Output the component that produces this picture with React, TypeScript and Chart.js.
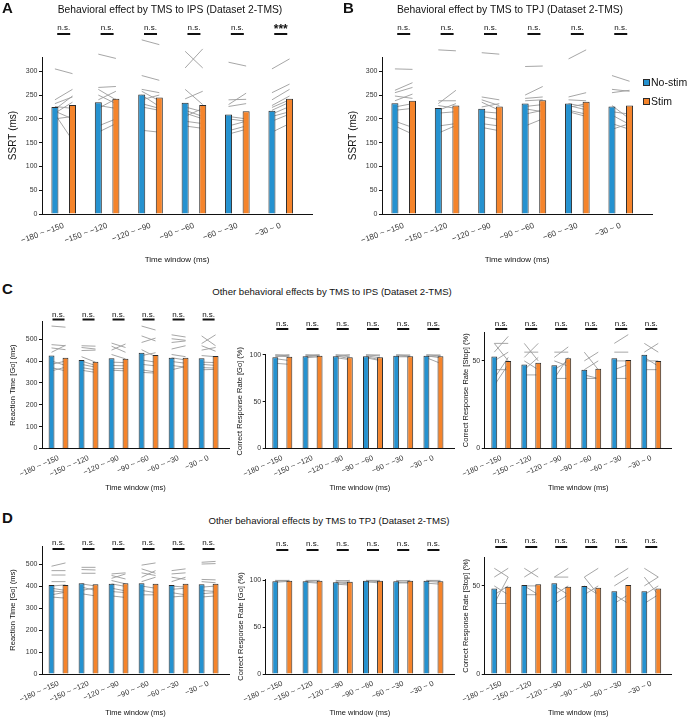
import React, { useEffect, useRef } from 'react';
import { Chart, registerables } from 'chart.js';

Chart.register(...registerables);

const FONT = '"Liberation Sans", Arial, Helvetica, sans-serif';
Chart.defaults.font.family = FONT;

// ---------- shared categories ----------
const timeWindows = ['−180 ~ −150', '−150 ~ −120', '−120 ~ −90', '−90 ~ −60', '−60 ~ −30', '−30 ~ 0'];
const groupPositions = [1, 2, 3, 4, 5, 6];
const seriesLabels = ['No-stim', 'Stim'];

// ---------- tick labels ----------
const ssrtTicks = [0, 50, 100, 150, 200, 250, 300];
const rtTicks = [0, 100, 200, 300, 400, 500];
const goTicks = [0, 50, 100];
const stopTicks = [0, 50];

// ---------- A: SSRT, IPS ----------
const ipsSsrtNoStim = [225, 235, 251, 234, 209, 217];
const ipsSsrtStim = [229, 242, 245, 229, 216, 242];
const ipsSsrtSubjNoStim = [
  [305, 240, 232, 226, 220, 216, 212, 210, 200],
  [336, 266, 262, 250, 240, 228, 222, 185, 172],
  [366, 291, 262, 258, 250, 240, 232, 225, 176],
  [342, 307, 262, 242, 225, 218, 212, 205, 195, 185],
  [319, 240, 230, 226, 205, 200, 185, 175, 168],
  [305, 255, 240, 228, 224, 218, 210, 205, 195, 172],
];
const ipsSsrtSubjStim = [
  [295, 262, 246, 222, 248, 200, 235, 155, 205],
  [327, 268, 240, 232, 258, 222, 242, 200, 190],
  [356, 281, 255, 238, 226, 250, 222, 218, 172],
  [307, 347, 230, 258, 215, 205, 200, 222, 190, 180],
  [311, 241, 254, 232, 200, 195, 195, 185, 178],
  [326, 273, 262, 248, 240, 235, 226, 215, 210, 190],
];
const ipsSsrtSig = ['n.s.', 'n.s.', 'n.s.', 'n.s.', 'n.s.', '***'];

// ---------- B: SSRT, TPJ ----------
const tpjSsrtNoStim = [233, 223, 221, 232, 232, 226];
const tpjSsrtStim = [238, 228, 226, 239, 236, 228];
const tpjSsrtSubjNoStim = [
  [305, 260, 255, 248, 238, 225, 218, 195, 185],
  [345, 238, 232, 228, 218, 212, 185, 170],
  [339, 246, 240, 235, 225, 215, 205, 190, 182],
  [310, 250, 243, 238, 226, 221, 210, 185],
  [326, 246, 240, 232, 228, 224, 218, 215],
  [291, 262, 255, 228, 215, 208, 190, 178],
];
const tpjSsrtSubjStim = [
  [304, 276, 266, 243, 252, 232, 222, 182, 168],
  [343, 238, 260, 222, 232, 215, 190, 186],
  [336, 240, 228, 218, 232, 212, 198, 185, 175],
  [311, 268, 246, 240, 230, 215, 218, 200],
  [345, 255, 238, 225, 219, 232, 210, 205],
  [279, 258, 260, 200, 210, 188, 178, 190],
];
const tpjSsrtSig = ['n.s.', 'n.s.', 'n.s.', 'n.s.', 'n.s.', 'n.s.'];

// ---------- C: other effects, IPS ----------
const ipsRtNoStim = [425, 405, 413, 438, 415, 413];
const ipsRtStim = [415, 397, 410, 428, 415, 423];
const ipsRtSubjNoStim = [
  [560, 475, 460, 440, 400, 385, 370, 355],
  [470, 462, 448, 420, 400, 385, 370, 358],
  [482, 468, 450, 430, 395, 380, 365, 358],
  [560, 515, 485, 452, 425, 405, 385, 360, 348],
  [520, 502, 485, 455, 430, 415, 398, 380, 360],
  [480, 515, 470, 450, 425, 395, 385, 370, 360],
];
const ipsRtSubjStim = [
  [555, 470, 452, 472, 380, 400, 355, 372],
  [468, 455, 450, 395, 380, 372, 360, 348],
  [462, 440, 478, 410, 393, 378, 366, 355],
  [542, 492, 505, 420, 438, 395, 378, 350, 345],
  [510, 495, 492, 470, 420, 405, 390, 372, 375],
  [520, 470, 445, 462, 420, 393, 380, 368, 362],
];
const ipsGoNoStim = [97.5, 98.5, 98.5, 98.5, 99, 99];
const ipsGoStim = [98, 99, 97.5, 97.5, 98.5, 98.5];
const ipsGoSubjNoStim = [
  [100, 100, 99, 98, 96, 91],
  [100, 100, 99, 98, 97],
  [100, 100, 99, 98, 97],
  [100, 100, 99, 98, 97],
  [100, 100, 99, 98],
  [100, 100, 99, 98, 97],
];
const ipsGoSubjStim = [
  [100, 99, 98, 100, 94, 90],
  [100, 99, 100, 99, 98],
  [100, 98, 96, 100, 95],
  [100, 99, 97, 95, 94],
  [100, 99, 98, 98],
  [100, 99, 97, 99, 91],
];
const ipsStopNoStim = [52.5, 48, 47.5, 45, 51.5, 53.5];
const ipsStopStim = [50, 49, 51.5, 45.5, 50.5, 50];
const ipsStopSubjNoStim = [
  [60, 60, 55, 50, 45, 40, 36],
  [60, 55, 52, 50, 45, 42],
  [55, 52, 50, 45, 40, 40],
  [55, 50, 45, 40, 42],
  [60, 55, 50, 45, 40],
  [60, 55, 52, 50, 45],
];
const ipsStopSubjStim = [
  [60, 50, 64, 55, 45, 52, 48],
  [50, 55, 60, 45, 52, 42],
  [55, 58, 47, 50, 52, 40],
  [45, 55, 50, 40, 40],
  [65, 55, 50, 48, 40],
  [55, 60, 47, 50, 45],
];

// ---------- D: other effects, TPJ ----------
const tpjRtNoStim = [405, 413, 410, 413, 405, 408];
const tpjRtStim = [405, 408, 413, 410, 410, 410];
const tpjRtSubjNoStim = [
  [490, 470, 450, 420, 400, 390, 378, 360, 350],
  [485, 475, 458, 410, 395, 380, 365],
  [455, 448, 435, 425, 410, 390, 375, 355],
  [495, 478, 460, 440, 420, 400, 380, 360],
  [470, 455, 440, 420, 400, 385, 370, 350],
  [508, 500, 430, 420, 395, 380, 365, 350],
];
const tpjRtSubjStim = [
  [505, 470, 450, 420, 405, 380, 372, 372, 345],
  [485, 473, 458, 400, 380, 392, 355],
  [460, 432, 455, 410, 398, 378, 370, 348],
  [505, 458, 448, 470, 440, 390, 370, 360],
  [478, 460, 430, 440, 395, 390, 360, 355],
  [512, 502, 428, 415, 400, 375, 370, 355],
];
const tpjGoNoStim = [99, 99, 98, 99.5, 99, 99.5];
const tpjGoStim = [99.5, 99.5, 98.5, 99.5, 99.5, 99];
const tpjGoSubjNoStim = [
  [100, 100, 99, 98],
  [100, 99, 99, 98],
  [100, 99, 98, 97, 96],
  [100, 100, 99, 98],
  [100, 99, 98, 97],
  [100, 100, 99, 97],
];
const tpjGoSubjStim = [
  [100, 99, 100, 99],
  [100, 100, 98, 97],
  [99, 100, 96, 98, 95],
  [100, 99, 97, 99],
  [99, 100, 97, 98],
  [99, 100, 98, 96],
];
const tpjStopNoStim = [48.5, 50.5, 51.5, 50, 47, 47];
const tpjStopStim = [49.5, 51, 49.5, 49, 50.5, 48.5];
const tpjStopSubjNoStim = [
  [60, 55, 50, 45, 40, 40],
  [60, 55, 50, 45, 50],
  [55, 55, 50, 45, 40],
  [55, 50, 45, 55],
  [55, 50, 45, 40],
  [60, 55, 50, 45, 40],
];
const tpjStopSubjStim = [
  [55, 60, 45, 50, 55, 40],
  [55, 60, 50, 45, 45],
  [60, 55, 45, 50, 45],
  [60, 45, 50, 45],
  [60, 55, 40, 45],
  [55, 45, 55, 50, 45],
];
const allNs = ['n.s.', 'n.s.', 'n.s.', 'n.s.', 'n.s.', 'n.s.'];

// ---------- styles ----------
const BLUE = '#2592d0';
const ORANGE = '#f5842b';
const EDGE = '#2b2b2b';
const SUBJ = '#9c9c9c';

type Spec = {
  x0: number; y0: number; w: number; h: number;
  left: number; right: number; top: number; bottom: number;
  xMin: number; xMax: number; yMax: number; yTicks: number[];
  yTitle: string; noStim: number[]; stim: number[];
  subjNoStim: number[][]; subjStim: number[][]; sig: string[];
  sigBarY: number; sigTextY: number; sigW: number;
  catPct: number; barPct: number;
  yTitleX: number; xTitleY: number; xTickPad: number;
  yTitleSize: number; xTitleSize: number; yTickSize: number; xTickSize: number; rotation: number;
};

const topRow = {
  y0: 0, h: 272, top: 57, bottom: 214, xMin: 0.5, xMax: 6.72, yMax: 330, yTicks: ssrtTicks,
  yTitle: 'SSRT (ms)', sigBarY: 34, sigTextY: 30, sigW: 13, catPct: 0.81, barPct: 0.4,
  xTitleY: 260, xTickPad: 7, yTitleSize: 10, xTitleSize: 8, yTickSize: 7, xTickSize: 8, rotation: 20,
};
const midRow = {
  y0: 298, h: 198, bottom: 448.5, xMin: 0.45, xMax: 6.68, sigW: 12, catPct: 0.93, barPct: 0.42,
  xTitleY: 488, xTickPad: 5, yTitleSize: 7.5, xTitleSize: 7.5, yTickSize: 7, xTickSize: 7.5, rotation: 24,
};
const lowRow = {
  y0: 528, h: 193, bottom: 674, xMin: 0.45, xMax: 6.68, sigW: 12, catPct: 0.93, barPct: 0.42,
  xTitleY: 713, xTickPad: 5, yTitleSize: 7.5, xTitleSize: 7.5, yTickSize: 7, xTickSize: 7.5, rotation: 24,
};

const specA: Spec = { ...topRow, x0: 0, w: 340, left: 42, right: 312, yTitleX: 13,
  noStim: ipsSsrtNoStim, stim: ipsSsrtStim, subjNoStim: ipsSsrtSubjNoStim, subjStim: ipsSsrtSubjStim, sig: ipsSsrtSig };
const specB: Spec = { ...topRow, x0: 340, w: 348, left: 382, right: 652, yTitleX: 353,
  noStim: tpjSsrtNoStim, stim: tpjSsrtStim, subjNoStim: tpjSsrtSubjNoStim, subjStim: tpjSsrtSubjStim, sig: tpjSsrtSig };

const specC1: Spec = { ...midRow, x0: 0, w: 236, left: 42, right: 229, top: 321.7, yMax: 580, yTicks: rtTicks,
  yTitle: 'Reaction Time [Go] (ms)', sigBarY: 319.5, sigTextY: 316.5, yTitleX: 13,
  noStim: ipsRtNoStim, stim: ipsRtStim, subjNoStim: ipsRtSubjNoStim, subjStim: ipsRtSubjStim, sig: allNs };
const specC2: Spec = { ...midRow, x0: 228, w: 232, left: 265.7, right: 454, top: 354, yMax: 101, yTicks: goTicks,
  yTitle: 'Correct Response Rate [Go] (%)', sigBarY: 329, sigTextY: 326, yTitleX: 240,
  noStim: ipsGoNoStim, stim: ipsGoStim, subjNoStim: ipsGoSubjNoStim, subjStim: ipsGoSubjStim, sig: allNs };
const specC3: Spec = { ...midRow, x0: 455, w: 233, left: 484.3, right: 671.7, top: 332, yMax: 66.5, yTicks: stopTicks,
  yTitle: 'Correct Response Rate [Stop] (%)', sigBarY: 329, sigTextY: 326, yTitleX: 465,
  noStim: ipsStopNoStim, stim: ipsStopStim, subjNoStim: ipsStopSubjNoStim, subjStim: ipsStopSubjStim, sig: allNs };

const specD1: Spec = { ...lowRow, x0: 0, w: 236, left: 42, right: 229, top: 546, yMax: 582, yTicks: rtTicks,
  yTitle: 'Reaction Time [Go] (ms)', sigBarY: 549, sigTextY: 545, yTitleX: 13,
  noStim: tpjRtNoStim, stim: tpjRtStim, subjNoStim: tpjRtSubjNoStim, subjStim: tpjRtSubjStim, sig: allNs };
const specD2: Spec = { ...lowRow, x0: 228, w: 232, left: 265.7, right: 454, top: 579, yMax: 101.5, yTicks: goTicks,
  yTitle: 'Correct Response Rate [Go] (%)', sigBarY: 550, sigTextY: 546, yTitleX: 241,
  noStim: tpjGoNoStim, stim: tpjGoStim, subjNoStim: tpjGoSubjNoStim, subjStim: tpjGoSubjStim, sig: allNs };
const specD3: Spec = { ...lowRow, x0: 455, w: 233, left: 484.3, right: 671.7, top: 557.7, yMax: 66, yTicks: stopTicks,
  yTitle: 'Correct Response Rate [Stop] (%)', sigBarY: 547, sigTextY: 543, yTitleX: 465,
  noStim: tpjStopNoStim, stim: tpjStopStim, subjNoStim: tpjStopSubjNoStim, subjStim: tpjStopSubjStim, sig: allNs };

const allSpecs = [specA, specB, specC1, specC2, specC3, specD1, specD2, specD3];

function makePairedPlugin(s: Spec) {
  return {
    id: 'pairedSubjects',
    beforeDatasetsDraw(chart: any) {
      const { ctx } = chart;
      const y = chart.scales.y;
      const m0 = chart.getDatasetMeta(0);
      const m1 = chart.getDatasetMeta(1);
      ctx.save();
      ctx.strokeStyle = SUBJ;
      ctx.lineWidth = 0.9;
      s.subjNoStim.forEach((grp, i) => {
        const xa = m0.data[i].x;
        const xb = m1.data[i].x;
        grp.forEach((v, k) => {
          ctx.beginPath();
          ctx.moveTo(xa, y.getPixelForValue(v));
          ctx.lineTo(xb, y.getPixelForValue(s.subjStim[i][k]));
          ctx.stroke();
        });
      });
      ctx.restore();
    },
    afterDatasetsDraw(chart: any) {
      const { ctx } = chart;
      const x = chart.scales.x;
      ctx.save();
      s.sig.forEach((label, i) => {
        const cx = x.getPixelForValue(groupPositions[i]);
        const by = s.sigBarY - s.y0;
        const ty = s.sigTextY - s.y0;
        ctx.fillStyle = '#111';
        ctx.fillRect(cx - s.sigW / 2, by - 1, s.sigW, 2);
        ctx.textAlign = 'center';
        ctx.textBaseline = 'alphabetic';
        if (label === '***') {
          ctx.font = `bold 12px ${FONT}`;
          ctx.fillText(label, cx, ty + 3);
        } else {
          ctx.font = `8px ${FONT}`;
          ctx.fillText(label, cx, ty);
        }
      });
      ctx.restore();
    },
  };
}

function PairedBarChart({ spec }: { spec: Spec }) {
  const ref = useRef<HTMLCanvasElement>(null);
  useEffect(() => {
    const s = spec;
    const yAxisW = s.left - s.x0;
    const xAxisH = s.y0 + s.h - s.bottom;
    const yLh = s.yTitleSize * 1.2;
    const xLh = s.xTitleSize * 1.2;
    const chart = new Chart(ref.current as HTMLCanvasElement, {
      type: 'bar',
      data: {
        datasets: [
          {
            label: seriesLabels[0],
            data: s.noStim.map((v, i) => ({ x: groupPositions[i], y: v })),
            backgroundColor: BLUE, borderColor: EDGE, borderWidth: 1,
            categoryPercentage: s.catPct, barPercentage: s.barPct,
          },
          {
            label: seriesLabels[1],
            data: s.stim.map((v, i) => ({ x: groupPositions[i], y: v })),
            backgroundColor: ORANGE, borderColor: EDGE, borderWidth: 1,
            categoryPercentage: s.catPct, barPercentage: s.barPct,
          },
        ],
      } as any,
      options: {
        responsive: false,
        animation: false,
        devicePixelRatio: 1,
        events: [],
        layout: { padding: { left: 0, top: s.top - s.y0, right: s.x0 + s.w - s.right, bottom: 0 } },
        plugins: { legend: { display: false }, tooltip: { enabled: false } },
        scales: {
          x: {
            type: 'linear', min: s.xMin, max: s.xMax, offset: false,
            grid: { display: true, drawOnChartArea: false, drawTicks: false, offset: false },
            border: { display: true, color: '#111', width: 1 },
            afterBuildTicks: (sc: any) => { sc.ticks = groupPositions.map((v) => ({ value: v })); },
            afterFit: (sc: any) => { sc.height = xAxisH; },
            ticks: {
              autoSkip: false, minRotation: s.rotation, maxRotation: s.rotation, padding: s.xTickPad,
              font: { size: s.xTickSize }, color: '#333',
              callback: (_v: any, i: number) => timeWindows[i],
            },
            title: {
              display: true, text: 'Time window (ms)', font: { size: s.xTitleSize }, color: '#111',
              padding: { top: 0, bottom: s.y0 + s.h - s.xTitleY - xLh / 2 },
            },
          },
          y: {
            type: 'linear', min: 0, max: s.yMax,
            grid: { display: true, drawOnChartArea: false, drawTicks: true, tickLength: 3, color: '#111' },
            border: { display: true, color: '#111', width: 1 },
            afterBuildTicks: (sc: any) => { sc.ticks = s.yTicks.map((v) => ({ value: v })); },
            afterFit: (sc: any) => { sc.width = yAxisW; },
            ticks: { padding: 1.5, font: { size: s.yTickSize }, color: '#333', callback: (v: any) => String(v) },
            title: {
              display: true, text: s.yTitle, font: { size: s.yTitleSize }, color: '#111',
              padding: { top: s.yTitleX - s.x0 - yLh / 2, bottom: 0 },
            },
          },
        },
      } as any,
      plugins: [makePairedPlugin(s)],
    });
    return () => chart.destroy();
  }, [spec]);
  return (
    <canvas
      ref={ref}
      width={spec.w}
      height={spec.h}
      style={{ position: 'absolute', left: spec.x0, top: spec.y0, width: spec.w, height: spec.h }}
    />
  );
}

const textBase: React.CSSProperties = { position: 'absolute', fontFamily: FONT, color: '#111', whiteSpace: 'nowrap' };

function Letter({ ch, x, y }: { ch: string; x: number; y: number }) {
  return <div style={{ ...textBase, left: x, top: y, fontSize: 15, lineHeight: '15px', fontWeight: 700 }}>{ch}</div>;
}
function Title({ text, cx, y, size }: { text: string; cx: number; y: number; size: number }) {
  return (
    <div style={{ ...textBase, left: cx - 200, width: 400, top: y, fontSize: size, lineHeight: '12px', textAlign: 'center' }}>
      {text}
    </div>
  );
}

export default function App() {
  return (
    <div style={{ position: 'absolute', left: 0, top: 0, width: 688, height: 721, background: '#fff', overflow: 'hidden' }}>
      {allSpecs.map((s, i) => (
        <PairedBarChart key={i} spec={s} />
      ))}
      <Letter ch="A" x={2} y={0} />
      <Letter ch="B" x={343} y={0} />
      <Letter ch="C" x={2} y={281} />
      <Letter ch="D" x={2} y={510} />
      <Title text="Behavioral effect by TMS to IPS (Dataset 2-TMS)" cx={170} y={3.5} size={10.3} />
      <Title text="Behavioral effect by TMS to TPJ (Dataset 2-TMS)" cx={510} y={3.5} size={10.3} />
      <Title text="Other behavioral effects by TMS to IPS (Dataset 2-TMS)" cx={332} y={286} size={9.6} />
      <Title text="Other behavioral effects by TMS to TPJ (Dataset 2-TMS)" cx={329} y={515} size={9.6} />
      <div style={{ position: 'absolute', left: 643, top: 79, width: 5, height: 5, background: BLUE, border: `1px solid ${EDGE}` }} />
      <div style={{ ...textBase, left: 651, top: 76, fontSize: 10.5, lineHeight: '12px' }}>{seriesLabels[0]}</div>
      <div style={{ position: 'absolute', left: 643, top: 98, width: 5, height: 5, background: ORANGE, border: `1px solid ${EDGE}` }} />
      <div style={{ ...textBase, left: 651, top: 95, fontSize: 10.5, lineHeight: '12px' }}>{seriesLabels[1]}</div>
    </div>
  );
}
